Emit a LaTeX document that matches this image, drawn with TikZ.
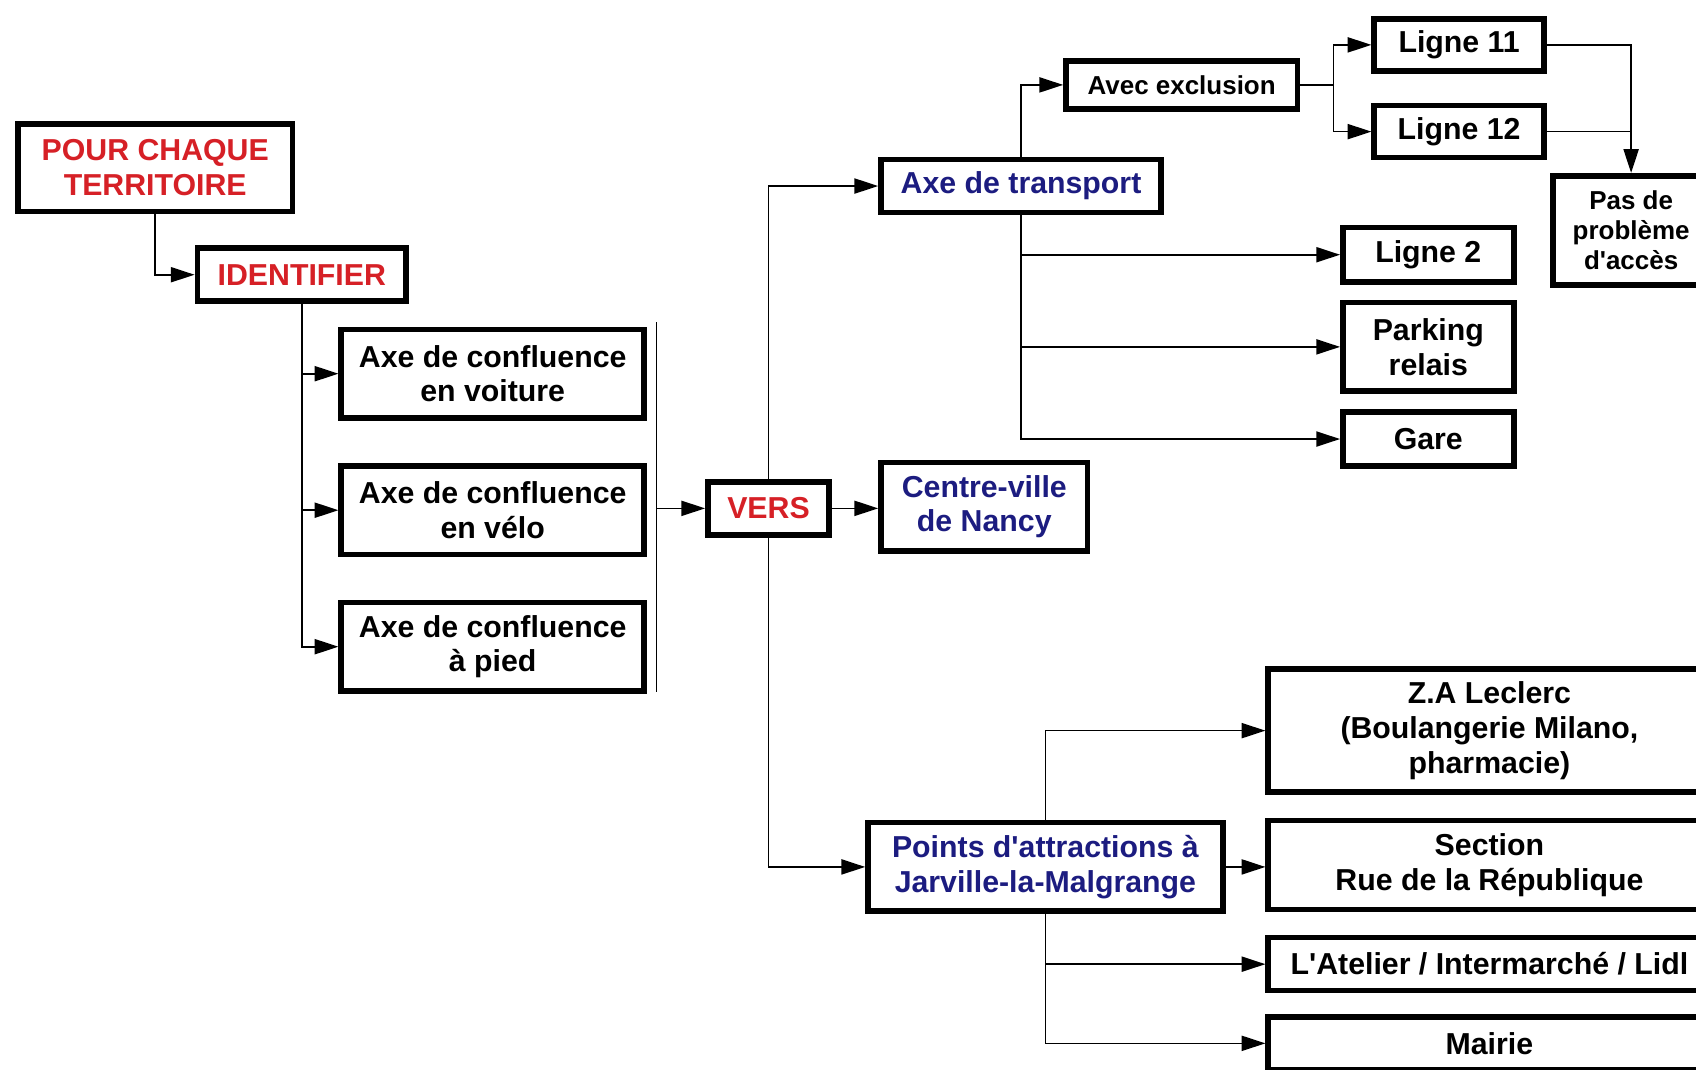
\documentclass[tikz,border=0pt]{standalone}
\usepackage{fontspec}
\setmainfont{Liberation Sans}[Ligatures=TeXOff]
\usepackage{tikz}
\usetikzlibrary{arrows.meta,positioning}
\definecolor{titred}{RGB}{214,32,38}
\definecolor{navy}{RGB}{28,28,128}

\begin{document}
\begin{tikzpicture}[x=0.5pt,y=-0.5pt,font=\fontsize{14pt}{16pt}\selectfont\bfseries,
  box/.style={draw,line width=2.6pt,align=center,inner sep=2pt},
  rd/.style={box,text=titred},bl/.style={box,text=navy},
  sm/.style={box,font=\fontsize{12pt}{14pt}\selectfont\bfseries},
  axe/.style={box,minimum width=140pt,minimum height=41pt},
  lst/.style={box,minimum width=204.5pt},
  ar/.style={-{Triangle[length=11pt,width=7pt]},line width=0.75pt},
  ln/.style={line width=0.75pt}]
\useasboundingbox[fill=white] (0,0) rectangle (1568,989);
\node[rd,minimum width=127pt,minimum height=40.5pt] (terr) at (143.5,155) {POUR CHAQUE\\ TERRITOIRE};
\node[rd,minimum width=96.5pt,minimum height=24.5pt] (ident) at (279,254) {IDENTIFIER};
\node[axe] (voit) at (455.5,345.5) {Axe de confluence\\ en voiture};
\node[axe,below=19.5pt of voit] (velo) {Axe de confluence\\ en vélo};
\node[axe,below=19.5pt of velo] (pied) {Axe de confluence\\ à pied};
\node[rd,minimum width=56pt,minimum height=24.5pt] (vers) at (710.5,470) {VERS};
\node[bl,minimum width=129.5pt,minimum height=24.5pt] (transp) at (944,172) {Axe de transport};
\node[bl,minimum width=95.5pt,minimum height=41pt] (centre) at (910,468.5) {Centre-ville\\ de Nancy};
\node[bl,minimum width=164pt,minimum height=41pt] (attr) at (966.5,801.5) {Points d'attractions à\\ Jarville-la-Malgrange};
\node[sm,minimum width=107pt,minimum height=22pt] (avec) at (1092.5,78.5) {Avec exclusion};
\node[box,minimum width=78.5pt,minimum height=24pt] (lg11) at (1349,41.5) {Ligne 11};
\node[box,minimum width=78.5pt,minimum height=24pt,below=13.5pt of lg11] (lg12) {Ligne 12};
\node[sm,minimum width=72.5pt,minimum height=50.5pt] (pasp) at (1508,213) {Pas de\\ problème\\ d'accès};
\node[box,minimum width=79pt,minimum height=25pt] (lg2) at (1320.5,235.5) {Ligne 2};
\node[box,minimum width=79pt,minimum height=41pt,below=7pt of lg2] (park) {Parking\\ relais};
\node[box,minimum width=79pt,minimum height=25pt,below=7pt of park] (gare) {Gare};
\node[lst,minimum height=57pt] (zal) at (1377,675.5) {Z.A Leclerc\\ (Boulangerie Milano,\\ pharmacie)};
\node[lst,minimum height=41pt,below=10.5pt of zal] (sect) {Section\\ Rue de la République};
\node[lst,minimum height=24.5pt,below=10.5pt of sect] (atel) {L'Atelier / Intermarché / Lidl};
\node[lst,minimum height=24.5pt,below=9.5pt of atel] (mair) {Mairie};
\coordinate (brt) at (607,298);
\coordinate (brb) at (607,640);
\coordinate (avj) at (1233,78.5);
\draw[ar] (terr.south) |- (ident.west);
\draw[ar] (ident.south) |- (voit.west);
\draw[ar] (ident.south) |- (velo.west);
\draw[ar] (ident.south) |- (pied.west);
\draw[ln] (brt) -- (brb);
\draw[ar] (brt |- vers) -- (vers);
\draw[ar] (vers.north) |- (transp.west);
\draw[ar] (vers) -- (vers -| centre.west);
\draw[ar] (vers.south) |- (attr.west);
\draw[ar] (transp.north) |- (avec.west);
\draw[ar] (transp.south) |- (lg2.west);
\draw[ar] (transp.south) |- (park.west);
\draw[ar] (transp.south) |- (gare.west);
\draw[ln] (avec) -- (avj);
\draw[ar] (avj) |- (lg11);
\draw[ar] (avj) |- (lg12);
\draw[ar] (lg11) -| (pasp);
\draw[ln] (lg12) -- (lg12 -| pasp);
\draw[ar] (attr.north) |- (zal.west);
\draw[ar] (attr) -- (attr -| sect.west);
\draw[ar] (attr.south) |- (atel.west);
\draw[ar] (attr.south) |- (mair.west);
\end{tikzpicture}
\end{document}
